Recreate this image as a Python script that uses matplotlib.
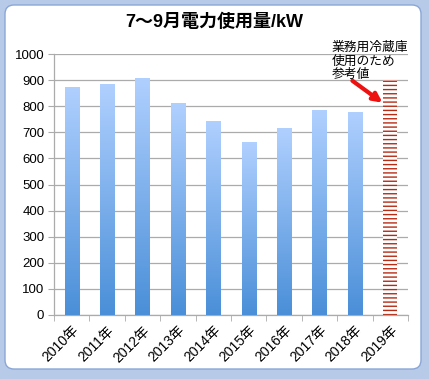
import numpy as np
import matplotlib
matplotlib.use('Agg')
import matplotlib.pyplot as plt
from matplotlib.colors import LinearSegmentedColormap
from matplotlib.patches import FancyBboxPatch

plt.rcParams['font.family'] = ['Liberation Sans', 'Noto Sans CJK JP', 'DejaVu Sans']
plt.rcParams['hatch.linewidth'] = 1.0

years = ['2010年', '2011年', '2012年', '2013年', '2014年',
         '2015年', '2016年', '2017年', '2018年', '2019年']
usage = [875, 885, 910, 812, 745, 662, 716, 786, 780]
reference_value = 900
title = '7～9月電力使用量/kW'
note = '業務用冷蔵庫\n使用のため\n参考値'
yticks = [0, 100, 200, 300, 400, 500, 600, 700, 800, 900, 1000]

fig = plt.figure(figsize=(4.29, 3.79), dpi=100)
fig.patch.set_facecolor('#b7cbe9')
frame = FancyBboxPatch((0.05, 0.10), 4.16, 3.64,
                       boxstyle='round,pad=0,rounding_size=0.09',
                       transform=fig.dpi_scale_trans, facecolor='white',
                       edgecolor='#8aa6d6', linewidth=1.0, zorder=-10)
fig.add_artist(frame)

ax = fig.add_axes([0.126, 0.169, 0.825, 0.688])
ax.set_zorder(1)
ax.set_facecolor('none')

x = np.arange(len(years))
width = 0.40
bars = ax.bar(x[:len(usage)], usage, width=width, color='#7fb0ea',
              linewidth=0, zorder=2)
cmap = LinearSegmentedColormap.from_list('g', ['#4a8fd8', '#b0d0ff'])
grad = np.linspace(0, 1, 256).reshape(-1, 1)
for b in bars:
    x0, y0 = b.get_x(), b.get_y()
    w, h = b.get_width(), b.get_height()
    im = ax.imshow(grad, extent=(x0, x0 + w, y0, y0 + h), origin='lower',
                   cmap=cmap, aspect='auto', zorder=3)
    im.set_clip_path(b)

ax.bar(x[len(usage)], reference_value, width=width, facecolor='white',
       edgecolor='#b82a14', hatch='----', linewidth=0, zorder=2)

ax.set_xlim(-0.5, len(years) - 0.5)
ax.set_ylim(0, 1000)
ax.set_yticks(yticks)
ax.set_yticklabels([str(v) for v in yticks], fontsize=9.5)
ax.yaxis.grid(True, color='#ababab', linewidth=0.9, zorder=1)
ax.set_axisbelow(True)

ax.set_xticks(x)
ax.set_xticklabels(years, fontsize=10, rotation=45, ha='right',
                   rotation_mode='anchor')
ax.set_xticks(np.arange(len(years) + 1) - 0.5, minor=True)
ax.tick_params(axis='x', which='major', length=0, pad=6)
ax.tick_params(axis='x', which='minor', length=4, color='#ababab')
ax.tick_params(axis='y', length=4, color='#ababab', pad=3)

for s in ['top', 'right']:
    ax.spines[s].set_visible(False)
for s in ['left', 'bottom']:
    ax.spines[s].set_color('#ababab')
    ax.spines[s].set_linewidth(0.9)

ax.annotate('', xy=(8.78, 814), xytext=(7.93, 898),
            arrowprops=dict(arrowstyle='-|>', color='#ee1111', lw=3,
                            mutation_scale=13, shrinkA=0, shrinkB=0),
            annotation_clip=False, zorder=5)
ax.text(7.35, 1050, note, va='top', ha='left', fontsize=9.2,
        linespacing=1.2, clip_on=False, zorder=5)

fig.text(0.5, 1 - 22 / 379, title, ha='center', va='center',
         fontsize=13, fontweight='bold')

fig.savefig('out.png', dpi=100)
